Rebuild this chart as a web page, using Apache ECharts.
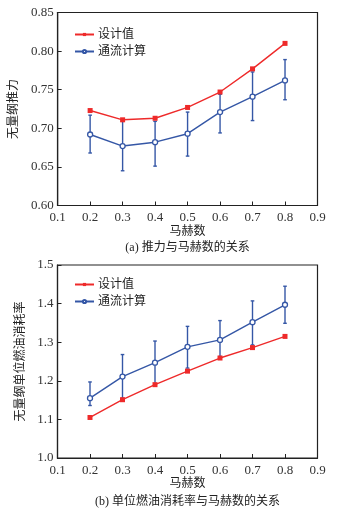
<!DOCTYPE html>
<html><head><meta charset="utf-8">
<script src="https://cdn.jsdelivr.net/npm/echarts@6/dist/echarts.min.js"></script>
<style>html,body{margin:0;padding:0;background:#fff}#c{width:344px;height:517px}</style>
</head><body><div id="c"></div>
<script>
var mach = [0.2, 0.3, 0.4, 0.5, 0.6, 0.7, 0.8];
var seriesNames = ['设计值', '通流计算'];
var thrustDesign = [0.723, 0.711, 0.713, 0.727, 0.747, 0.777, 0.810];
var thrustCalc = [0.692, 0.677, 0.682, 0.693, 0.721, 0.741, 0.762];
var thrustErrHigh = [0.717, 0.709, 0.709, 0.721, 0.744, 0.773, 0.789];
var thrustErrLow = [0.668, 0.645, 0.651, 0.664, 0.694, 0.710, 0.737];
var sfcDesign = [1.105, 1.151, 1.190, 1.225, 1.259, 1.286, 1.315];
var sfcCalc = [1.155, 1.211, 1.247, 1.288, 1.306, 1.352, 1.397];
var sfcErrHigh = [1.197, 1.268, 1.303, 1.341, 1.356, 1.407, 1.445];
var sfcErrLow = [1.136, 1.155, 1.190, 1.233, 1.263, 1.293, 1.349];
var titles = ['(a) 推力与马赫数的关系', '(b) 单位燃油消耗率与马赫数的关系'];
var xName = '马赫数';
var yNames = ['无量纲推力', '无量纲单位燃油消耗率'];

var RED = '#ee2a2a', BLUE = '#3557a6', AX = '#222';
var NUMF = '"Liberation Serif","Noto Sans CJK SC",serif';
var CJKF = '"Liberation Serif","Noto Sans CJK SC",serif';

function zip(a, b) { return a.map(function (v, i) { return [v, b[i]]; }); }
function errData(x, lo, hi) { return x.map(function (v, i) { return [v, lo[i], hi[i]]; }); }

function errRender(params, api) {
  var x = api.value(0);
  var p1 = api.coord([x, api.value(1)]);
  var p2 = api.coord([x, api.value(2)]);
  var w = 1.8;
  var st = { stroke: BLUE, lineWidth: 1.4 };
  return { type: 'group', children: [
    { type: 'line', shape: { x1: p1[0], y1: p1[1], x2: p2[0], y2: p2[1] }, style: st },
    { type: 'line', shape: { x1: p1[0] - w, y1: p1[1], x2: p1[0] + w, y2: p1[1] }, style: st },
    { type: 'line', shape: { x1: p2[0] - w, y1: p2[1], x2: p2[0] + w, y2: p2[1] }, style: st }
  ]};
}

var grids = [
  { left: 57.5, right: 26.5, top: 12.5, height: 193 },
  { left: 57.5, right: 26.5, top: 265, height: 193 }
];
grids.forEach(function (g) { g.show = true; g.borderColor = AX; g.borderWidth = 1.2; });

function xAx(i) {
  return { gridIndex: i, type: 'value', min: 0.1, max: 0.9, interval: 0.1,
    name: xName, nameLocation: 'middle', nameGap: 19,
    nameTextStyle: { fontFamily: CJKF, fontSize: 12, color: '#222' },
    axisLine: { lineStyle: { color: AX, width: 1.2 } },
    axisTick: { inside: true, length: 4, lineStyle: { color: AX } },
    axisLabel: { margin: 6, fontFamily: NUMF, fontSize: 13, color: '#333',
      formatter: function (v) { return v.toFixed(1); } },
    splitLine: { show: false } };
}
function yAx(i, min, max, iv, dec) {
  return { gridIndex: i, type: 'value', min: min, max: max, interval: iv,
    name: yNames[i], nameLocation: 'middle', nameGap: 30, nameRotate: 90,
    nameTextStyle: { fontFamily: CJKF, fontSize: 12, color: '#222' },
    axisLine: { show: true, lineStyle: { color: AX, width: 1.2 } },
    axisTick: { show: true, inside: true, length: 4, lineStyle: { color: AX } },
    axisLabel: { margin: 4, fontFamily: NUMF, fontSize: 13, color: '#333',
      formatter: function (v) { return v.toFixed(dec); } },
    splitLine: { show: false } };
}

function lineSeries(name, i, data, color, symbol, fill) {
  return { name: name, type: 'line', xAxisIndex: i, yAxisIndex: i, data: data,
    symbol: symbol, symbolSize: 5,
    lineStyle: { color: color, width: 1.4 },
    itemStyle: { color: fill, borderColor: color, borderWidth: symbol === 'rect' ? 0 : 1.3 },
    emphasis: { disabled: true }, z: 3 };
}

var option = {
  animation: false,
  backgroundColor: '#fff',
  grid: grids,
  xAxis: [xAx(0), xAx(1)],
  yAxis: [yAx(0, 0.6, 0.85, 0.05, 2), yAx(1, 1.0, 1.5, 0.1, 1)],
  legend: [0, 1].map(function (i) {
    return { data: seriesNames, orient: 'vertical', left: 74, top: i === 0 ? 28.5 : 278.5,
      padding: 0, itemWidth: 19, itemHeight: 4, itemGap: 5,
      textStyle: { fontFamily: CJKF, fontSize: 12, color: '#222', padding: [0, 0, 0, -1] } };
  }),
  series: [
    { type: 'custom', xAxisIndex: 0, yAxisIndex: 0, renderItem: errRender,
      data: errData(mach, thrustErrLow, thrustErrHigh), z: 2, silent: true },
    lineSeries(seriesNames[0], 0, zip(mach, thrustDesign), RED, 'rect', RED),
    lineSeries(seriesNames[1], 0, zip(mach, thrustCalc), BLUE, 'circle', '#fff'),
    { type: 'custom', xAxisIndex: 1, yAxisIndex: 1, renderItem: errRender,
      data: errData(mach, sfcErrLow, sfcErrHigh), z: 2, silent: true },
    lineSeries(seriesNames[0], 1, zip(mach, sfcDesign), RED, 'rect', RED),
    lineSeries(seriesNames[1], 1, zip(mach, sfcCalc), BLUE, 'circle', '#fff')
  ],
  graphic: [
    { type: 'text', x: 187.5, y: 248, style: { text: titles[0], font: '12px ' + CJKF, fill: '#222', align: 'center', verticalAlign: 'middle' } },
    { type: 'text', x: 187.5, y: 502, style: { text: titles[1], font: '12px ' + CJKF, fill: '#222', align: 'center', verticalAlign: 'middle' } }
  ]
};
var chart = echarts.init(document.getElementById('c'), null, { renderer: 'canvas' });
chart.setOption(option);
</script></body></html>
